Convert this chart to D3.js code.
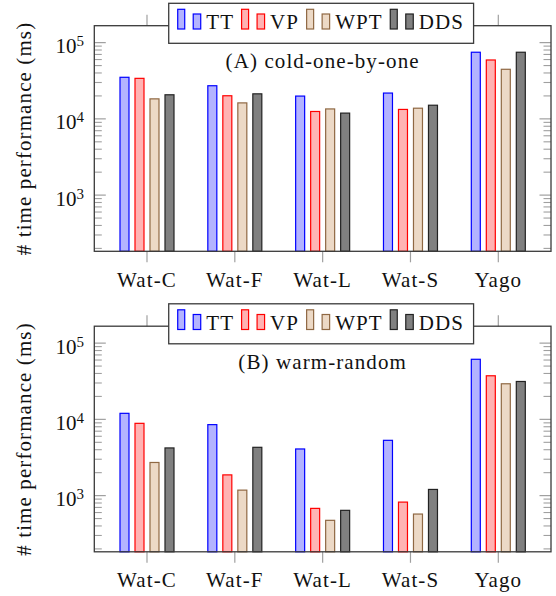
<!DOCTYPE html>
<html>
<head>
<meta charset="utf-8">
<script src="https://cdn.jsdelivr.net/npm/d3@7"></script>
<style>
  html, body { margin: 0; padding: 0; background: #fff; }
  svg { display: block; }
</style>
</head>
<body>
<svg id="chart" width="556" height="596" font-family="'Liberation Serif', 'DejaVu Serif', serif"></svg>
<script>
// ---------- data ----------
const categories = ["Wat-C", "Wat-F", "Wat-L", "Wat-S", "Yago"];
const seriesNames = ["TT", "VP", "WPT", "DDS"];

const coldTT  = [35100, 27200, 19900, 21800, 74800];
const coldVP  = [34000, 20100, 12500, 13300, 59200];
const coldWPT = [18300, 16200, 13500, 13800, 44700];
const coldDDS = [20700, 21300, 11900, 15100, 74800];

const warmTT  = [12000, 8530, 4090, 5310, 61400];
const warmVP  = [8870, 1870, 680, 822, 37300];
const warmWPT = [2720, 1180, 474, 573, 29300];
const warmDDS = [4220, 4300, 641, 1205, 31400];

const panelTitles = ["(A) cold-one-by-one", "(B) warm-random"];
const yMajorTicks = [1e3, 1e4, 1e5];
const yTickExponents = ["3", "4", "5"];
const yLabel = "# time performance (ms)";

// ---------- styles ----------
const fills   = ["#b3b3ff", "#ffb3b3", "#ecd9c6", "#808080"];
const strokes = ["#0000ff", "#ff0000", "#8f6843", "#222222"];
const fontSize = 21;
const letterSp = 1.1;
const fontFam = "'Liberation Serif', 'DejaVu Serif', serif";

const svg = d3.select("#chart");

const panels = [
  { top: 25.7, series: [coldTT, coldVP, coldWPT, coldDDS] },
  { top: 326.2, series: [warmTT, warmVP, warmWPT, warmDDS] }
];

const left = 94.3, right = 551, plotH = 225.6;
const yDomain = [Math.pow(10, 2.263), Math.pow(10, 5.222)];

const x = d3.scalePoint().domain(categories).range([left, right]).padding(0.6);
const xs = d3.scaleBand().domain(seriesNames).range([-30, 30]).paddingInner(1/3).paddingOuter(1/6);

// minor ticks
const minorTicks = [];
for (let e = 2; e <= 5; e++) for (let m = 2; m <= 9; m++) {
  const v = m * Math.pow(10, e);
  if (v >= yDomain[0] && v <= yDomain[1]) minorTicks.push(v);
}

function txt(sel) {
  return sel.attr("font-family", fontFam).attr("fill", "#111");
}

panels.forEach((p, pi) => {
  const top = p.top, bottom = top + plotH;
  const y = d3.scaleLog().domain(yDomain).range([bottom, top]);
  const g = svg.append("g");

  // minor y ticks (both sides, inside)
  g.selectAll(".minL").data(minorTicks).join("line")
    .attr("x1", left).attr("x2", left + 7.5)
    .attr("y1", d => y(d)).attr("y2", d => y(d))
    .attr("stroke", "#a0a0a0").attr("stroke-width", 1.1);
  g.selectAll(".minR").data(minorTicks).join("line")
    .attr("x1", right).attr("x2", right - 7.5)
    .attr("y1", d => y(d)).attr("y2", d => y(d))
    .attr("stroke", "#a0a0a0").attr("stroke-width", 1.1);
  // major y ticks
  g.selectAll(".majL").data(yMajorTicks).join("line")
    .attr("x1", left).attr("x2", left + 11.5)
    .attr("y1", d => y(d)).attr("y2", d => y(d))
    .attr("stroke", "#a0a0a0").attr("stroke-width", 1.2);
  g.selectAll(".majR").data(yMajorTicks).join("line")
    .attr("x1", right).attr("x2", right - 11.5)
    .attr("y1", d => y(d)).attr("y2", d => y(d))
    .attr("stroke", "#a0a0a0").attr("stroke-width", 1.2);

  // x ticks outward (bottom and top)
  g.selectAll(".xtB").data(categories).join("line")
    .attr("x1", d => x(d)).attr("x2", d => x(d))
    .attr("y1", bottom).attr("y2", bottom + 11)
    .attr("stroke", "#a0a0a0").attr("stroke-width", 1.2);
  g.selectAll(".xtT").data(categories).join("line")
    .attr("x1", d => x(d)).attr("x2", d => x(d))
    .attr("y1", top).attr("y2", top - 11)
    .attr("stroke", "#a0a0a0").attr("stroke-width", 1.2);

  // bars
  seriesNames.forEach((s, si) => {
    g.selectAll(".bar" + si).data(p.series[si]).join("rect")
      .attr("x", (d, i) => x(categories[i]) + xs(s) + 0.5)
      .attr("width", xs.bandwidth() - 1)
      .attr("y", d => y(d))
      .attr("height", d => bottom - y(d))
      .attr("fill", fills[si])
      .attr("stroke", strokes[si])
      .attr("stroke-width", 1.2);
  });

  // axis box
  g.append("rect")
    .attr("x", left).attr("y", top)
    .attr("width", right - left).attr("height", bottom - top)
    .attr("fill", "none").attr("stroke", "#3a3a3a").attr("stroke-width", 1.3);

  // y tick labels
  const yl = txt(g.selectAll(".ylab").data(yMajorTicks).join("text"))
    .attr("x", 84).attr("y", d => y(d) + 10.5)
    .attr("text-anchor", "end")
    .attr("font-size", fontSize);
  yl.append("tspan").text("10");
  yl.append("tspan").attr("dy", -7).attr("font-size", 15).text((d, i) => yTickExponents[i]);

  // x tick labels
  txt(g.selectAll(".xlab").data(categories).join("text"))
    .attr("x", d => x(d)).attr("y", bottom + 35.5)
    .attr("text-anchor", "middle")
    .attr("font-size", fontSize)
    .attr("letter-spacing", letterSp)
    .text(d => d);

  // y axis label
  txt(g.append("text"))
    .attr("transform", `translate(31,${(top + bottom) / 2}) rotate(-90)`)
    .attr("text-anchor", "middle")
    .attr("font-size", fontSize)
    .attr("letter-spacing", letterSp)
    .text(yLabel);

  // panel title
  txt(g.append("text"))
    .attr("x", (left + right) / 2).attr("y", top + 42.6)
    .attr("text-anchor", "middle")
    .attr("font-size", fontSize)
    .attr("letter-spacing", letterSp)
    .text(panelTitles[pi]);

  // legend
  const lg = g.append("g");
  const lbox = lg.append("rect")
    .attr("fill", "#fff").attr("stroke", "#3a3a3a").attr("stroke-width", 1.3);
  const baseY = top + 3.3;
  let cx = 0;
  const offs = [];
  const itemGroups = [];
  seriesNames.forEach((s, si) => {
    const it = lg.append("g");
    it.append("rect").attr("x", 0.5).attr("y", baseY - 19.7).attr("width", 7).attr("height", 19.7)
      .attr("fill", fills[si]).attr("stroke", strokes[si]).attr("stroke-width", 1.2);
    it.append("rect").attr("x", 16).attr("y", baseY - 15).attr("width", 7.5).attr("height", 15)
      .attr("fill", fills[si]).attr("stroke", strokes[si]).attr("stroke-width", 1.2);
    const t = txt(it.append("text")).attr("x", 29).attr("y", baseY)
      .attr("font-size", fontSize)
      .attr("letter-spacing", letterSp)
      .text(s);
    const w = 29 + t.node().getComputedTextLength();
    offs.push(cx);
    itemGroups.push(it);
    cx += w + 7;
  });
  const contentW = cx - 7;
  const boxW = contentW + 18;
  const boxX = (left + right) / 2 - 1.5 - boxW / 2;
  itemGroups.forEach((it, i) => it.attr("transform", `translate(${boxX + 8.5 + offs[i]},0)`));
  lbox.attr("x", boxX).attr("y", top - 22.4).attr("width", boxW).attr("height", 40);
});
</script>
</body>
</html>
